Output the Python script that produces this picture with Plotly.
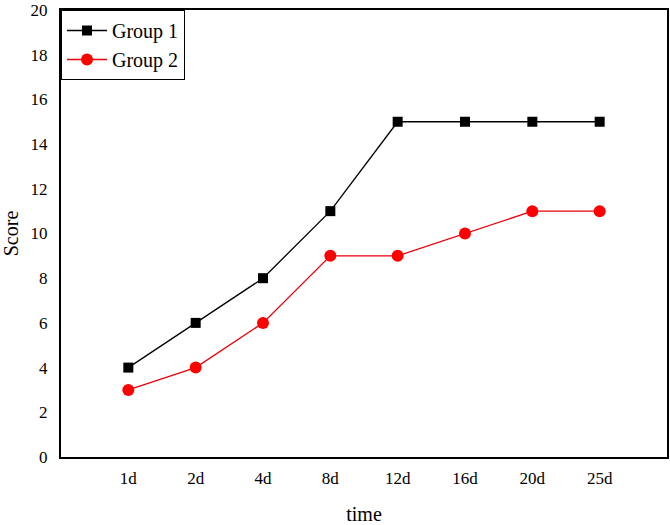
import plotly.graph_objects as go

categories = ["1d", "2d", "4d", "8d", "12d", "16d", "20d", "25d"]
group1 = [4, 6, 8, 11, 15, 15, 15, 15]
group2 = [3, 4, 6, 9, 9, 10, 11, 11]

fig = go.Figure()
fig.add_trace(go.Scatter(x=categories, y=group1, name="Group 1", mode="lines+markers",
                         line=dict(color="black", width=1.3),
                         marker=dict(symbol="square", size=10, color="black")))
fig.add_trace(go.Scatter(x=categories, y=group2, name="Group 2", mode="lines+markers",
                         line=dict(color="#e8000b", width=1.3),
                         marker=dict(symbol="circle", size=12, color="#ff0000")))

font = "Liberation Serif, Times New Roman, serif"
fig.update_layout(
    width=670, height=525,
    margin=dict(l=61, r=1, t=10, b=63),
    paper_bgcolor="white", plot_bgcolor="white",
    font=dict(family=font, size=17, color="black"),
    showlegend=True,
    legend=dict(x=0, y=1, xanchor="left", yanchor="top",
                bordercolor="black", borderwidth=1, bgcolor="white",
                font=dict(size=20, family=font), tracegroupgap=0,
                itemwidth=40),
    xaxis=dict(type="category", range=[-1, 8], showgrid=False, ticks="",
               showline=True, linecolor="black", linewidth=2, mirror=True,
               ticklabelstandoff=5,
               title=dict(text="time", font=dict(size=20), standoff=22),
               tickfont=dict(size=17)),
    yaxis=dict(range=[0, 20], dtick=2, showgrid=False, ticks="", zeroline=False,
               showline=True, linecolor="black", linewidth=2, mirror=True,
               ticklabelstandoff=8,
               title=dict(text="Score", font=dict(size=20), standoff=14),
               tickfont=dict(size=17)),
)
fig.write_html("out.html", config={"displayModeBar": False},
               post_script="document.body.style.margin='0';document.body.style.padding='0';")
